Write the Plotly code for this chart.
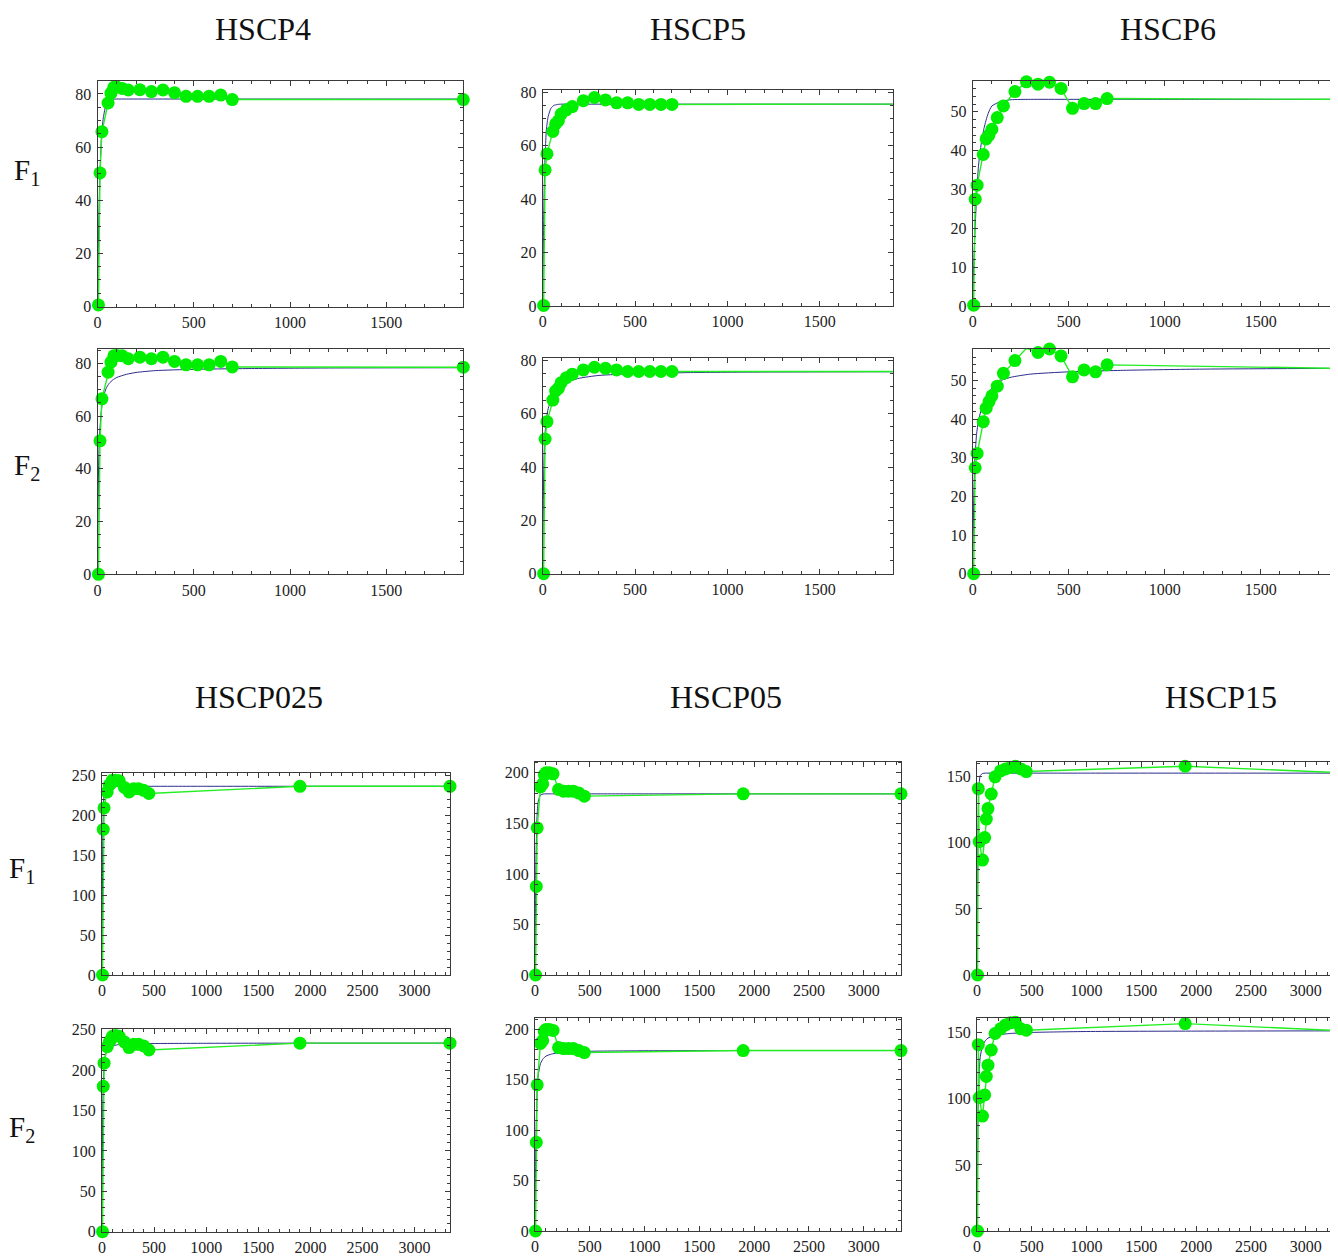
import plotly.graph_objects as go

# the html body keeps an 8px margin; page coordinates = figure coordinates + 8
OFF = 8
W, H = 1340, 1260

# ---------------- data ----------------
T_TOP = [5, 13, 23, 55, 70, 85, 100, 128, 160, 220, 280, 340, 400, 460, 520, 580, 640, 700, 1900]
HSCP4_F1 = [0.6, 50.3, 65.8, 76.6, 80.3, 82.5, 82.6, 82.1, 81.5, 81.6, 80.9, 81.5, 80.5, 79.1, 79.1, 79.1, 79.6, 77.9, 77.9]
HSCP4_F2 = [0.0, 50.6, 66.5, 76.6, 80.4, 82.8, 82.9, 82.8, 81.7, 82.3, 81.7, 82.3, 80.7, 79.4, 79.4, 79.4, 80.7, 78.6, 78.5]
HSCP5_F1 = [0.2, 50.9, 56.9, 65.3, 68.1, 69.3, 71.8, 73.4, 74.6, 76.8, 78.0, 77.1, 76.0, 76.0, 75.4, 75.4, 75.4, 75.4, 75.5]
HSCP5_F2 = [0.0, 50.5, 57.0, 65.1, 68.5, 69.5, 71.6, 73.5, 74.8, 76.4, 77.4, 77.0, 76.4, 75.8, 75.8, 75.8, 75.8, 75.8, 75.8]
HSCP6_F1 = [0.2, 27.5, 31.1, 39.0, 43.0, 44.0, 45.5, 48.5, 51.5, 55.2, 57.7, 57.1, 57.6, 56.0, 50.9, 52.1, 52.1, 53.4, 53.2]
HSCP6_F2 = [0.0, 27.4, 31.1, 39.3, 42.8, 44.5, 46.0, 48.5, 51.8, 55.1, 58.3, 57.2, 58.1, 56.3, 50.9, 52.7, 52.2, 54.0, 53.1]

FIT_T_TOP = [0, 5, 10, 20, 30, 45, 60, 80, 100, 150, 200, 300, 500, 800, 1200, 1900]
FIT4_F1 = [0, 25, 43, 63, 71, 76, 77.5, 78, 78.1, 78.1, 78.1, 78.1, 78.1, 78.1, 78.1, 78.1]
FIT4_F2 = [0, 38, 52, 62, 67, 70.5, 72.3, 73.7, 74.6, 75.8, 76.5, 77.2, 77.7, 78.0, 78.2, 78.3]
FIT5_F1 = [0, 30, 50, 66, 71, 74, 75, 75.4, 75.5, 75.5, 75.5, 75.5, 75.5, 75.5, 75.5, 75.5]
FIT5_F2 = [0, 35, 50, 58, 62, 65, 67, 69, 70.5, 72.3, 73.3, 74.3, 75.0, 75.4, 75.6, 75.7]
FIT6_F1 = [0, 10, 17, 28, 36, 42, 46, 49.5, 51.5, 52.7, 53.1, 53.2, 53.2, 53.2, 53.2, 53.2]
FIT6_F2 = [0, 18, 28, 36, 39.5, 42.5, 44.5, 46.5, 48, 50, 50.8, 51.6, 52.2, 52.6, 52.9, 53.1]

T_BOT = [5, 12, 20, 50, 70, 85, 100, 130, 165, 215, 260, 305, 350, 400, 450, 1900, 3340]
HSCP025_F1 = [0, 182, 209, 229, 237.5, 239.6, 243.7, 243.7, 243, 234.6, 229, 233, 233, 231, 227, 236, 236]
HSCP025_F2 = [0, 180, 208.7, 229, 235, 238, 242, 243, 242, 235, 228, 232, 232, 230, 225, 233.5, 233.5]
HSCP05_F1 = [0, 87.6, 145.5, 186, 189, 198, 200, 200, 199, 183.5, 181.8, 181.8, 181.8, 180, 176.9, 179.2, 179.2]
HSCP05_F2 = [0, 88, 145, 186, 189, 198, 200, 200, 199, 182, 181, 181, 181, 179, 177, 179, 179]
HSCP15_F1 = [0, 141, 101, 87, 104, 118, 126, 137, 150, 154.5, 156, 157, 158, 156, 154, 158, 153]
HSCP15_F2 = [0, 141, 101, 87, 103, 117, 125.5, 137, 149.5, 153, 156, 157.6, 158, 153, 152, 157, 151.5]

FIT_T_BOT = [0, 5, 10, 20, 30, 50, 75, 100, 150, 200, 300, 500, 1000, 2000, 3340]
FIT025_F1 = [0, 120, 190, 225, 232, 234, 235, 235.5, 236, 236, 236, 236, 236, 236, 236]
FIT025_F2 = [0, 110, 170, 205, 217, 225, 228, 230, 231.5, 232, 232.5, 233, 233.3, 233.5, 233.5]
FIT05_F1 = [0, 70, 120, 160, 172, 178, 179, 179.2, 179.2, 179.2, 179.2, 179.2, 179.2, 179.2, 179.2]
FIT05_F2 = [0, 60, 100, 140, 155, 166, 171, 173.5, 175.5, 176.5, 177.5, 178.3, 178.8, 179, 179]
FIT15_F1 = [0, 60, 110, 145, 151, 152.5, 152.8, 152.8, 152.8, 152.8, 152.8, 152.8, 152.8, 152.8, 152.8]
FIT15_F2 = [0, 50, 90, 120, 132, 140, 144, 146, 147.5, 148.5, 149.5, 150.3, 151, 151.3, 151.5]

TITLES_TOP = ["HSCP4", "HSCP5", "HSCP6"]
TITLES_BOT = ["HSCP025", "HSCP05", "HSCP15"]
ROW_LABELS = ["F<sub>1</sub>", "F<sub>2</sub>"]


def px(p):
    return (p - OFF) / W


def py(p):
    return 1 - (p - OFF) / H


# ---------------- layout (page-pixel boxes of each frame) ----------------
# (t, y, fit_t, fit_y, x0, x1, ytop, ybot, xmax, ymax, ydtick, yminor, cut_right)
panels = [
    (T_TOP, HSCP4_F1, FIT_T_TOP, FIT4_F1, 97.5, 463.3, 80.7, 306.5, 1900, 85, 20, 5, False),
    (T_TOP, HSCP5_F1, FIT_T_TOP, FIT5_F1, 542.7, 892.7, 90.0, 306.0, 1895, 80.8, 20, 5, False),
    (T_TOP, HSCP6_F1, FIT_T_TOP, FIT6_F1, 972.7, 1337.5, 80.7, 306.0, 1900, 58, 10, 2, True),
    (T_TOP, HSCP4_F2, FIT_T_TOP, FIT4_F2, 97.5, 463.3, 349.0, 574.3, 1900, 85.4, 20, 5, False),
    (T_TOP, HSCP5_F2, FIT_T_TOP, FIT5_F2, 542.7, 892.7, 358.3, 573.7, 1895, 80.75, 20, 5, False),
    (T_TOP, HSCP6_F2, FIT_T_TOP, FIT6_F2, 972.7, 1337.5, 349.0, 573.7, 1900, 58.1, 10, 2, True),
    (T_BOT, HSCP025_F1, FIT_T_BOT, FIT025_F1, 102.0, 450.0, 772.7, 975.0, 3340, 253, 50, 10, False),
    (T_BOT, HSCP05_F1, FIT_T_BOT, FIT05_F1, 535.0, 901.0, 761.7, 975.0, 3340, 211, 50, 10, False),
    (T_BOT, HSCP15_F1, FIT_T_BOT, FIT15_F1, 977.0, 1343.0, 762.3, 975.0, 3340, 161, 50, 10, True),
    (T_BOT, HSCP025_F2, FIT_T_BOT, FIT025_F2, 102.0, 450.0, 1029.0, 1231.7, 3340, 251, 50, 10, False),
    (T_BOT, HSCP05_F2, FIT_T_BOT, FIT05_F2, 535.0, 901.0, 1018.3, 1231.0, 3340, 211, 50, 10, False),
    (T_BOT, HSCP15_F2, FIT_T_BOT, FIT15_F2, 977.0, 1343.0, 1018.3, 1231.0, 3340, 161, 50, 10, True),
]

FRAME = "#3a3a3a"
SERIF = "Liberation Serif, Times New Roman, serif"
TICKFONT = dict(family=SERIF, size=16, color="#222222")

fig = go.Figure()
layout = {}
for i, (t, y, ft, fy, x0, x1, yt, yb, xmax, ymax, ydt, ymin, cut) in enumerate(panels, start=1):
    xa = "x" if i == 1 else f"x{i}"
    ya = "y" if i == 1 else f"y{i}"
    fig.add_trace(go.Scatter(x=ft, y=fy, mode="lines", xaxis=xa, yaxis=ya,
                             line=dict(color="#2b2b8c", width=1, shape="spline", smoothing=0.6),
                             hoverinfo="skip", showlegend=False))
    fig.add_trace(go.Scatter(x=t, y=y, mode="lines+markers", xaxis=xa, yaxis=ya,
                             line=dict(color="#22ee22", width=1.4),
                             marker=dict(color="#00ee00", size=13, line=dict(width=0)),
                             cliponaxis=False, showlegend=False))
    common = dict(showline=True, linecolor=FRAME, linewidth=1, automargin=False,
                  ticks="inside", ticklen=5, tickwidth=1, tickcolor=FRAME,
                  showgrid=False, zeroline=False, tickfont=TICKFONT, tick0=0)
    layout["xaxis" if i == 1 else f"xaxis{i}"] = dict(
        domain=[px(x0), px(x1)], range=[0, xmax], anchor=ya, dtick=500, mirror="allticks",
        minor=dict(dtick=100, ticks="inside", ticklen=3, tickcolor=FRAME, showgrid=False),
        ticklabelstandoff=1, **common)
    layout["yaxis" if i == 1 else f"yaxis{i}"] = dict(
        domain=[py(yb), py(yt)], range=[0, ymax], anchor=xa, dtick=ydt,
        mirror=False if cut else "allticks",
        minor=dict(dtick=ymin, ticks="inside", ticklen=3, tickcolor=FRAME, showgrid=False),
        ticklabelstandoff=2, **common)

annotations = []
TITLE_FONT = dict(family=SERIF, size=32, color="#111111")
ROW_FONT = dict(family=SERIF, size=29, color="#111111")
for name, cx in zip(TITLES_TOP, [263, 698, 1168]):
    annotations.append(dict(text=name, x=px(cx), y=py(29), xref="paper", yref="paper",
                            showarrow=False, xanchor="center", yanchor="middle", font=TITLE_FONT))
for name, cx in zip(TITLES_BOT, [259, 726, 1221]):
    annotations.append(dict(text=name, x=px(cx), y=py(697), xref="paper", yref="paper",
                            showarrow=False, xanchor="center", yanchor="middle", font=TITLE_FONT))
for lab, cx, cy in zip(ROW_LABELS * 2, [27, 27, 22, 22], [172, 467, 870, 1129]):
    annotations.append(dict(text=lab, x=px(cx), y=py(cy), xref="paper", yref="paper",
                            showarrow=False, xanchor="center", yanchor="middle", font=ROW_FONT))

fig.update_layout(template="none", width=W, height=H, autosize=False,
                  margin=dict(l=0, r=0, t=0, b=0, pad=0),
                  paper_bgcolor="white", plot_bgcolor="white",
                  annotations=annotations, **layout)
fig.write_html("out.html")
